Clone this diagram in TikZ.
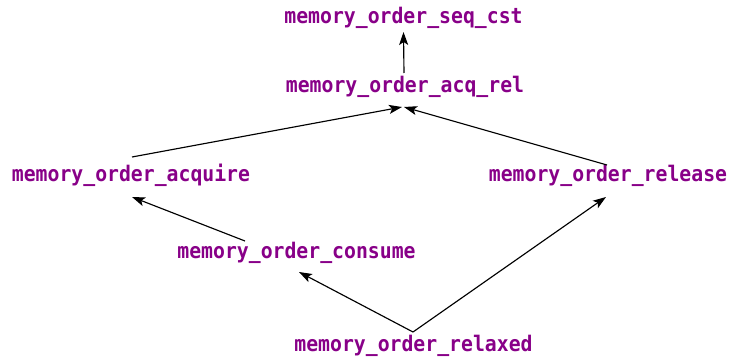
\documentclass[tikz,border=0pt]{standalone}
\usepackage{fontspec}
\newfontfamily\lblfont[FakeStretch=0.92]{DejaVu Sans Mono Bold}
\usetikzlibrary{arrows.meta}
\definecolor{lbl}{RGB}{136,0,136}
\begin{document}
\begin{tikzpicture}[x=1pt,y=-1pt,
  lab/.style={anchor=base,inner sep=0pt,text=lbl,font=\fontsize{21.5}{22}\selectfont\lblfont},
  edge/.style={line width=1.15pt,-{Stealth[length=13pt,width=9pt,inset=3pt]}}]
\useasboundingbox (0,0) rectangle (729,358);
\node[lab] (seq) at (403.5,24) {memory\_order\_seq\_cst};
\node[lab] (acqrel) at (405,93) {memory\_order\_acq\_rel};
\node[lab] (acq) at (131,182) {memory\_order\_acquire};
\node[lab] (rel) at (608,182) {memory\_order\_release};
\node[lab] (con) at (296.5,259) {memory\_order\_consume};
\node[lab] (rlx) at (413.5,352) {memory\_order\_relaxed};
\draw[edge] ([shift={(-1,-20)}]acqrel.base) -- ([shift={(0,8)}]seq.base);
\draw[edge] ([shift={(1,-25)}]acq.base) -- ([shift={(-3,14)}]acqrel.base);
\draw[edge] ([shift={(-1,-17)}]rel.base) -- ([shift={(-1,14)}]acqrel.base);
\draw[edge] ([shift={(-51.5,-18)}]con.base) -- ([shift={(1,15)}]acq.base);
\draw[edge] ([shift={(-0.5,-20)}]rlx.base) -- ([shift={(2.5,13)}]con.base);
\draw[edge] ([shift={(-0.5,-20)}]rlx.base) -- ([shift={(-2,15)}]rel.base);
\end{tikzpicture}
\end{document}
